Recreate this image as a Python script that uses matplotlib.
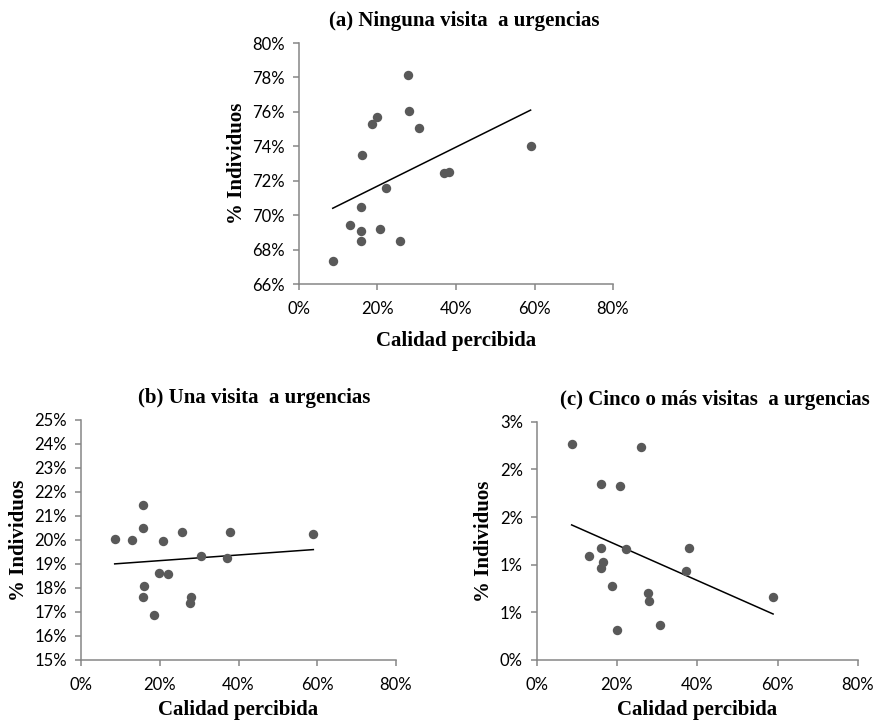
import numpy as np
import matplotlib.pyplot as plt
from matplotlib.ticker import FuncFormatter

# Calidad percibida (%) y % individuos
x_a = [8.6, 12.9, 15.7, 15.8, 15.7, 16.1, 18.7, 19.8, 20.6, 22.1, 25.8, 27.7, 28.0, 30.6, 36.9, 38.1, 59.0]
y_a = [67.36, 69.43, 68.48, 69.08, 70.50, 73.50, 75.31, 75.73, 69.18, 71.60, 68.48, 78.14, 76.08, 75.09, 72.44, 72.50, 74.01]

x_b = [8.55, 12.9, 15.8, 15.8, 16.1, 15.7, 18.6, 19.9, 20.7, 22.2, 25.7, 28.0, 27.8, 30.5, 37.0, 37.8, 59.0]
y_b = [20.03, 19.99, 21.47, 20.51, 18.10, 17.61, 16.86, 18.61, 19.94, 18.58, 20.35, 17.61, 17.39, 19.32, 19.26, 20.33, 20.26]

x_c = [8.7, 25.9, 15.9, 20.8, 15.9, 13.0, 22.3, 16.4, 15.9, 37.9, 37.1, 18.8, 27.8, 28.1, 19.9, 30.6, 58.9]
y_c = [2.27, 2.23, 1.85, 1.83, 1.18, 1.09, 1.16, 1.03, 0.96, 1.17, 0.93, 0.78, 0.70, 0.62, 0.31, 0.37, 0.66]

titulos = ["(a) Ninguna visita  a urgencias",
           "(b) Una visita  a urgencias",
           "(c) Cinco o más visitas  a urgencias"]

gris = "#868686"
serif = "Liberation Serif"
sans = "Lato"


def pct(v, pos):
    # como Excel: sin decimales, redondeo hacia arriba en .5
    return f"{int(np.floor(v + 0.5 + 1e-9))}%"


def panel(ax, x, y, titulo, ylim, ystep, tx, xpad):
    x = np.array(x)
    y = np.array(y)
    ax.scatter(x, y, s=46, color="#595959", zorder=3, linewidths=0)
    m, b = np.polyfit(x, y, 1)
    xs = np.array([x.min(), x.max()])
    ax.plot(xs, m * xs + b, color="black", lw=1.1, zorder=2)

    ax.set_xlim(0, 80)
    ax.set_ylim(*ylim)
    ax.set_xticks(np.arange(0, 81, 20))
    ax.set_yticks(np.arange(ylim[0], ylim[1] + ystep / 2, ystep))
    ax.xaxis.set_major_formatter(FuncFormatter(pct))
    ax.yaxis.set_major_formatter(FuncFormatter(pct))

    for s in ["top", "right"]:
        ax.spines[s].set_visible(False)
    for s in ["left", "bottom"]:
        ax.spines[s].set_color(gris)
        ax.spines[s].set_linewidth(1.1)
    ax.tick_params(direction="out", length=4, width=1.1, color=gris,
                   labelsize=12, labelcolor="black")
    ax.tick_params(axis="x", pad=8)
    ax.tick_params(axis="y", pad=6)
    for lab in ax.get_xticklabels() + ax.get_yticklabels():
        lab.set_family(sans)

    ax.set_title(titulo, family=serif, weight="bold", fontsize=15, pad=12, x=tx)
    ax.set_xlabel("Calidad percibida", family=serif, weight="bold", fontsize=15, labelpad=xpad)
    ax.set_ylabel("% Individuos", family=serif, weight="bold", fontsize=15, labelpad=4)


fig = plt.figure(figsize=(8.75, 7.22), dpi=100)
ax_a = fig.add_axes([0.3417, 0.6066, 0.3589, 0.3338])
ax_b = fig.add_axes([0.0926, 0.0859, 0.3600, 0.3324])
ax_c = fig.add_axes([0.6134, 0.0859, 0.3669, 0.3300])

panel(ax_a, x_a, y_a, titulos[0], (66, 80), 2, 0.525, 10)
panel(ax_b, x_b, y_b, titulos[1], (15, 25), 1, 0.549, 5)
panel(ax_c, x_c, y_c, titulos[2], (0, 2.5), 0.5, 0.555, 5)

fig.savefig("out.png", dpi=100)
